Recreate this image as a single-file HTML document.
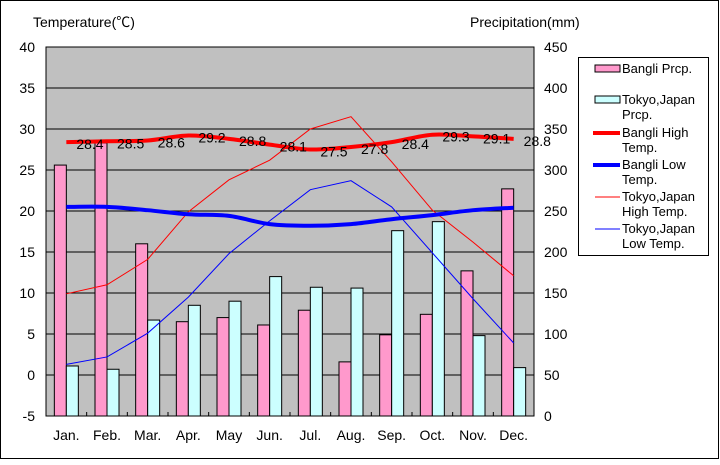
<!DOCTYPE html>
<html><head><meta charset="utf-8"><style>
body{margin:0;background:#fff;font-family:"Liberation Sans","Noto Sans CJK JP",sans-serif;}
svg text{font-family:"Liberation Sans","Noto Sans CJK JP",sans-serif;}
</style></head><body>
<svg id="c" width="720" height="460" xmlns="http://www.w3.org/2000/svg">
<rect x="0.5" y="0.5" width="718" height="458" fill="#fff" stroke="#000"/>
<rect x="46" y="47" width="488" height="369" fill="#c0c0c0" stroke="#000"/>
<text x="33" y="27" font-size="14">Temperature(℃)</text>
<text x="470" y="27" font-size="14">Precipitation(mm)</text>
<g id="grid"></g><g id="bars"></g><g id="lines"></g><g id="labels"></g><g id="axes"></g>
<g>
<rect x="578.5" y="57.5" width="130" height="198" fill="#fff" stroke="#000"/>
<rect x="595" y="65" width="25" height="7" fill="#ff99cc" stroke="#000"/>
<text x="622" y="73" font-size="13">Bangli  Prcp.</text>
<rect x="595" y="96" width="25" height="7" fill="#ccffff" stroke="#000"/>
<text x="622" y="104" font-size="13"><tspan x="622">Tokyo,Japan</tspan><tspan x="622" dy="15">Prcp.</tspan></text>
<line x1="593" y1="133" x2="620" y2="133" stroke="#f00" stroke-width="4"/>
<text x="622" y="137" font-size="13"><tspan x="622">Bangli  High</tspan><tspan x="622" dy="15">Temp.</tspan></text>
<line x1="593" y1="165" x2="620" y2="165" stroke="#00f" stroke-width="4"/>
<text x="622" y="169" font-size="13"><tspan x="622">Bangli  Low</tspan><tspan x="622" dy="15">Temp.</tspan></text>
<line x1="595" y1="197" x2="620" y2="197" stroke="#f00" stroke-width="1"/>
<text x="622" y="201" font-size="13"><tspan x="622">Tokyo,Japan</tspan><tspan x="622" dy="15">High Temp.</tspan></text>
<line x1="595" y1="229" x2="620" y2="229" stroke="#00f" stroke-width="1"/>
<text x="622" y="233" font-size="13"><tspan x="622">Tokyo,Japan</tspan><tspan x="622" dy="15">Low Temp.</tspan></text>
</g>
</svg>
<script>
const months=["Jan.","Feb.","Mar.","Apr.","May","Jun.","Jul.","Aug.","Sep.","Oct.","Nov.","Dec."];
const bangliPrcp=[306,333,210,115,120,111,129,66,99,124,177,277];
const tokyoPrcp=[61,57,117,135,140,170,157,156,226,237,98,59];
const bangliHigh=[28.4,28.5,28.6,29.2,28.8,28.1,27.5,27.8,28.4,29.3,29.1,28.8];
const bangliLow=[20.5,20.5,20.1,19.6,19.4,18.4,18.2,18.4,19.0,19.5,20.1,20.4];
const tokyoHigh=[9.9,11.0,14.1,19.9,23.8,26.2,30.0,31.5,26.0,20.1,16.2,12.1];
const tokyoLow=[1.3,2.2,5.1,9.5,14.8,18.8,22.6,23.7,20.5,14.9,9.3,3.9];
const tempTicks=[-5,0,5,10,15,20,25,30,35,40];
const prcpTicks=[0,50,100,150,200,250,300,350,400,450];
const NS="http://www.w3.org/2000/svg";
const L=46,R=534,T=47,B=416,cw=(R-L)/12;
const xc=i=>L+cw*(i+0.5);
const yT=t=>B-(t+5)/45*(B-T);
const yP=p=>B-p/450*(B-T);
function mk(tag,attrs,parent,txt){const e=document.createElementNS(NS,tag);for(const k in attrs)e.setAttribute(k,attrs[k]);if(txt!==undefined)e.textContent=txt;document.getElementById(parent).appendChild(e);return e;}
tempTicks.forEach((t,i)=>{
 if(t>-5&&t<40){const g=mk('line',{x1:L,x2:R,y1:yT(t),y2:yT(t),stroke:'#000'},'grid');
 
 }
 const a=mk('text',{x:35,y:yT(t)+5,'font-size':14,'text-anchor':'end'},'axes',t);
 
 
});
prcpTicks.forEach(p=>{
 const a=mk('text',{x:544,y:yP(p)+5,'font-size':14},'axes',p);
 
 
});
months.forEach((m,i)=>{
 const a=mk('text',{x:xc(i),y:440,'font-size':14,'text-anchor':'middle'},'axes',m);
 
 
 if(i>0){const tk=mk('line',{x1:L+cw*i,x2:L+cw*i,y1:B,y2:B-4,stroke:'#000'},'axes');
 
 }
 const b1=mk('rect',{x:xc(i)-12,y:yP(bangliPrcp[i]),width:12,height:B-yP(bangliPrcp[i]),fill:'#ff99cc',stroke:'#000'},'bars');
 
 
 const b2=mk('rect',{x:xc(i),y:yP(tokyoPrcp[i]),width:12,height:B-yP(tokyoPrcp[i]),fill:'#ccffff',stroke:'#000'},'bars');
 
 
});
function smooth(pts){let d=`M${pts[0][0]},${pts[0][1]}`;for(let i=0;i<pts.length-1;i++){const p0=pts[i-1]||pts[i],p1=pts[i],p2=pts[i+1],p3=pts[i+2]||p2;d+=` C${p1[0]+(p2[0]-p0[0])/6},${p1[1]+(p2[1]-p0[1])/6} ${p2[0]-(p3[0]-p1[0])/6},${p2[1]-(p3[1]-p1[1])/6} ${p2[0]},${p2[1]}`;}return d;}
const th=mk('polyline',{points:tokyoHigh.map((t,i)=>xc(i)+','+yT(t)).join(' '),fill:'none',stroke:'#f00','stroke-width':1},'lines');


const tl=mk('polyline',{points:tokyoLow.map((t,i)=>xc(i)+','+yT(t)).join(' '),fill:'none',stroke:'#00f','stroke-width':1},'lines');


const bh=mk('path',{d:smooth(bangliHigh.map((t,i)=>[xc(i),yT(t)])),fill:'none',stroke:'#f00','stroke-width':4},'lines');


const bl=mk('path',{d:smooth(bangliLow.map((t,i)=>[xc(i),yT(t)])),fill:'none',stroke:'#00f','stroke-width':4},'lines');


bangliHigh.forEach((t,i)=>{
 const a=mk('text',{x:xc(i)+10,y:yT(t)+7,'font-size':14},'labels',t.toFixed(1));
 
 
});
</script>
</body></html>
